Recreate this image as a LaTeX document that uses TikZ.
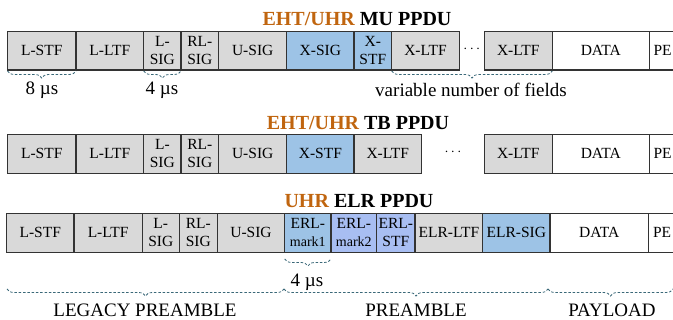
\documentclass[tikz,border=0pt]{standalone}
\usepackage{fontspec}
\setmainfont{Liberation Serif}
\usetikzlibrary{decorations.pathreplacing}
\definecolor{fieldgray}{HTML}{D9D9D9}
\definecolor{sigblue}{HTML}{9DC3E6}
\definecolor{markblue}{HTML}{A8BEF2}
\definecolor{titleorange}{HTML}{C0650F}
\definecolor{bracecol}{HTML}{3A6878}
\definecolor{edgecol}{HTML}{333333}
\tikzset{
  fieldbox/.style={draw=edgecol, line width=1.1pt, fill=fieldgray},
  bluebox/.style={fieldbox, fill=sigblue},
  markbox/.style={fieldbox, fill=markblue},
  whitebox/.style={fieldbox, fill=white},
  ftext/.style={font=\fontsize{15.5}{18}\selectfont, align=center, inner sep=0pt},
  ptitle/.style={font=\fontsize{20}{22}\selectfont\bfseries, inner sep=0pt},
  lbl/.style={font=\fontsize{19}{21}\selectfont, inner sep=0pt},
  dbrace/.style={draw=bracecol, line width=0.8pt, dash pattern=on 2.5pt off 1.8pt,
    decorate, decoration={brace, mirror, amplitude=7pt}},
}
% one field: \fld{style}{name}{left}{right}{top}{bottom}{text}
\newcommand{\fld}[7]{%
  \path[#1] (#3,#5) rectangle (#4,#6);
  \node[ftext] (#2) at ({(#3+#4)/2},{(#5+#6)/2}) {#7};}
\begin{document}
\begin{tikzpicture}[x=1pt, y=-1pt]
\useasboundingbox (0,0) rectangle (673,320);

% ---------- EHT/UHR MU PPDU ----------
\node[ptitle] (t1) at (357,19.5) {\textcolor{titleorange}{EHT/UHR} MU PPDU};
\def\ta{31.5}\def\tb{70}
\fld{fieldbox}{a1}{7.5}{76}{\ta}{\tb}{L-STF}
\fld{fieldbox}{a2}{76}{143.7}{\ta}{\tb}{L-LTF}
\fld{fieldbox}{a3}{143.7}{181}{\ta}{\tb}{L-\\SIG}
\fld{fieldbox}{a4}{181}{218.7}{\ta}{\tb}{RL-\\SIG}
\fld{fieldbox}{a5}{218.7}{286.7}{\ta}{\tb}{U-SIG}
\fld{bluebox}{a6}{286.7}{354}{\ta}{\tb}{X-SIG}
\fld{bluebox}{a7}{354}{391.7}{\ta}{\tb}{X-\\STF}
\fld{fieldbox}{a8}{391.7}{459.3}{\ta}{\tb}{X-LTF}
\node[ftext] (a9) at (471.8,49) {$\cdots$};
\fld{fieldbox}{a10}{484.3}{552.3}{\ta}{\tb}{X-LTF}
\fld{whitebox}{a11}{552.3}{649.3}{\ta}{\tb}{DATA}
\fld{whitebox}{a12}{649.3}{676}{\ta}{\tb}{PE}

\coordinate (b1s) at (7.5,71); \coordinate (b1e) at (76,71);
\draw[dbrace] (b1s) -- (b1e);
\node[lbl] (l1) at (42,90) {8 \textmu s};
\coordinate (b2s) at (143.7,71); \coordinate (b2e) at (181,71);
\draw[dbrace] (b2s) -- (b2e);
\node[lbl] (l2) at (162,90) {4 \textmu s};
\coordinate (b3s) at (391.7,71); \coordinate (b3e) at (552.3,71);
\draw[dbrace] (b3s) -- (b3e);
\node[lbl] (l3) at (471,90) {variable number of fields};

% ---------- EHT/UHR TB PPDU ----------
\node[ptitle] (t2) at (358,123) {\textcolor{titleorange}{EHT/UHR} TB PPDU};
\def\ta{134.3}\def\tb{173.3}
\fld{fieldbox}{c1}{7.5}{76}{\ta}{\tb}{L-STF}
\fld{fieldbox}{c2}{76}{143.7}{\ta}{\tb}{L-LTF}
\fld{fieldbox}{c3}{143.7}{181}{\ta}{\tb}{L-\\SIG}
\fld{fieldbox}{c4}{181}{218.7}{\ta}{\tb}{RL-\\SIG}
\fld{fieldbox}{c5}{218.7}{286.7}{\ta}{\tb}{U-SIG}
\fld{bluebox}{c6}{286.7}{354}{\ta}{\tb}{X-STF}
\fld{fieldbox}{c7}{354}{421.5}{\ta}{\tb}{X-LTF}
\node[ftext] (c8) at (453,152) {$\cdots$};
\fld{fieldbox}{c9}{484.3}{552.3}{\ta}{\tb}{X-LTF}
\fld{whitebox}{c10}{552.3}{649.3}{\ta}{\tb}{DATA}
\fld{whitebox}{c11}{649.3}{676}{\ta}{\tb}{PE}

% ---------- UHR ELR PPDU ----------
\node[ptitle] (t3) at (359,201) {\textcolor{titleorange}{UHR} ELR PPDU};
\def\ta{213.3}\def\tb{252.3}
\fld{fieldbox}{e1}{6.5}{74}{\ta}{\tb}{L-STF}
\fld{fieldbox}{e2}{74}{142.3}{\ta}{\tb}{L-LTF}
\fld{fieldbox}{e3}{142.3}{179.3}{\ta}{\tb}{L-\\SIG}
\fld{fieldbox}{e4}{179.3}{217.3}{\ta}{\tb}{RL-\\SIG}
\fld{fieldbox}{e5}{217.3}{284.7}{\ta}{\tb}{U-SIG}
\fld{bluebox}{e6}{284.7}{331}{\ta}{\tb}{ERL-\\{\fontsize{14}{16}\selectfont mark1}}
\fld{markbox}{e7}{331}{376.7}{\ta}{\tb}{ERL-\\{\fontsize{14}{16}\selectfont mark2}}
\fld{markbox}{e8}{376.7}{415}{\ta}{\tb}{ERL-\\STF}
\fld{fieldbox}{e9}{415}{482.7}{\ta}{\tb}{ELR-LTF}
\fld{bluebox}{e10}{482.7}{550}{\ta}{\tb}{ELR-SIG}
\fld{whitebox}{e11}{550}{648.3}{\ta}{\tb}{DATA}
\fld{whitebox}{e12}{648.3}{676}{\ta}{\tb}{PE}

\coordinate (b4s) at (284.7,259); \coordinate (b4e) at (331,259);
\draw[dbrace] (b4s) -- (b4e);
\node[lbl] (l4) at (307,282) {4 \textmu s};

\coordinate (p0) at (7,289); \coordinate (p1) at (284,289);
\coordinate (p2) at (548,289); \coordinate (p3) at (673,289);
\draw[dbrace] (p0) -- (p1);
\draw[dbrace] (p1) -- (p2);
\draw[dbrace] (p2) -- (p3);
\node[lbl] (l5) at (145,310) {LEGACY PREAMBLE};
\node[lbl] (l6) at (416,310) {PREAMBLE};
\node[lbl] (l7) at (612,310) {PAYLOAD};
\end{tikzpicture}
\end{document}
